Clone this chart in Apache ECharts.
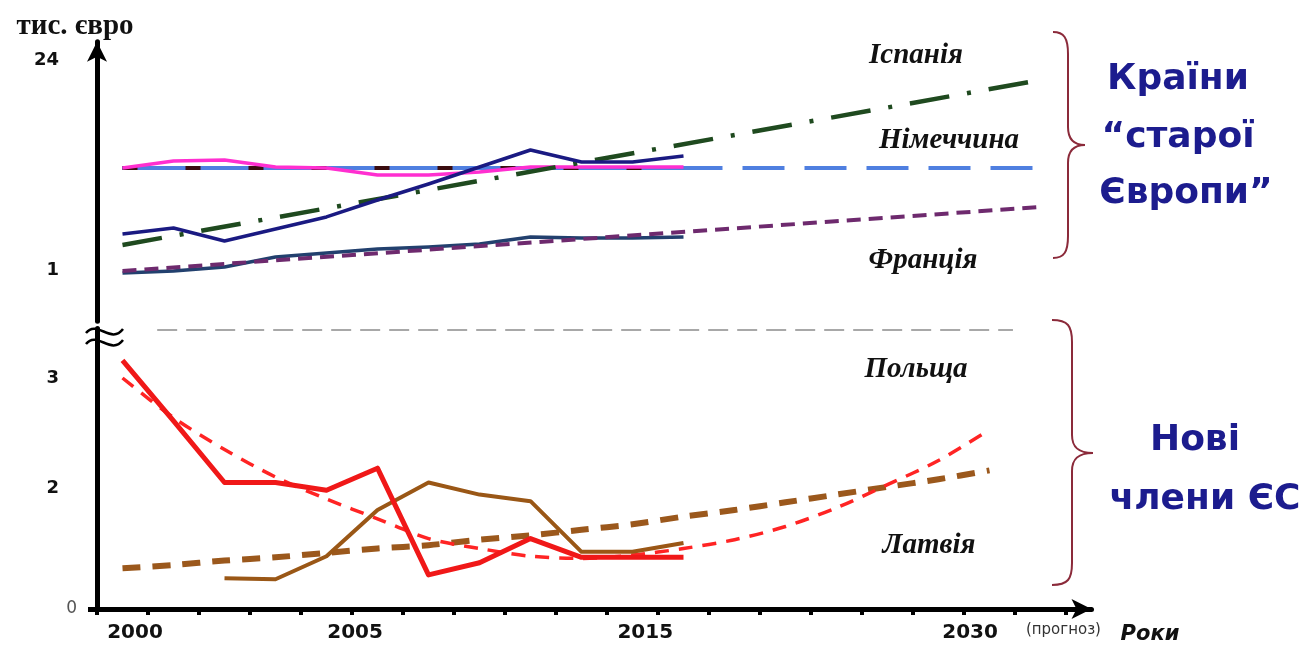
<!DOCTYPE html>
<html><head><meta charset="utf-8">
<script src="https://cdn.jsdelivr.net/npm/echarts@6/dist/echarts.min.js"></script>
<style>html,body{margin:0;padding:0;background:#fff}#c{width:1310px;height:655px}</style>
</head><body><div id="c"></div><script>
// ---- time slots (one slot per tick interval along the year axis) ----
const periods = [0,1,2,3,4,5,6,7,8,9,10,11,12,13,14,15,16,17,18];
const xTickValues = [0,1,2,3,4,5,6,7,8,9,10,11,12,13,14,15,16,17,18,19];
const yearLabels = ['2000','2005','2015','2030','(прогноз)'];
const yearLabelAt = [0.745, 5.06, 10.75, 17.12, 18.95];
const xAxisTitle = 'Роки';
const yAxisTitle = 'тис. євро';

// ---- y tick labels ----
const upperTickValues = [1, 24];
const upperTickLabels = ['1', '24'];
const lowerTickValues = [0.9, 2, 3];
const lowerTickLabels = ['0', '2', '3'];

// ---- "old Europe" (тис. євро, upper part of broken axis) ----
const spainActual   = [4.94, 5.60, 4.18, 5.49, 6.81, 8.67, 10.42, 12.28, 14.14, 12.83, 12.83, 13.49];
const spainTrend    = [3.74, null, null, null, null, null, null, null, null, null, null, null, null, null, null, null, null, null, 21.81];
const germanyActual = [12.17, 12.94, 13.05, 12.28, 12.17, 11.41, 11.41, 11.74, 12.28, 12.28, 12.28, 12.28];
const germanyFit    = [12.17, null, null, null, null, null, null, null, null, null, null, 12.17];
const germanyTrend  = [12.17, null, null, null, null, null, null, null, null, null, null, null, null, null, null, null, null, null, 12.17];
const franceActual  = [0.67, 0.89, 1.33, 2.42, 2.86, 3.29, 3.52, 3.85, 4.61, 4.50, 4.50, 4.61];
const franceTrend   = [0.89, null, null, null, null, null, null, null, null, null, null, null, null, null, null, null, null, null, 7.90];

// ---- new EU members (lower part of broken axis) ----
const polandActual = [3.16, 2.61, 2.05, 2.05, 1.98, 2.18, 1.21, 1.32, 1.54, 1.37, 1.37, 1.37];
const polandTrend  = [3.00, 2.64, 2.35, 2.10, 1.90, 1.72, 1.54, 1.45, 1.38, 1.36, 1.39, 1.45, 1.53, 1.65, 1.82, 2.03, 2.25, 2.53];
const latviaActual = [null, null, 1.18, 1.17, 1.38, 1.80, 2.05, 1.94, 1.88, 1.42, 1.42, 1.50];
const latviaTrend  = [1.27, 1.30, 1.34, 1.37, 1.41, 1.45, 1.48, 1.53, 1.57, 1.62, 1.67, 1.74, 1.80, 1.87, 1.94, 2.01, 2.08, 2.16];

const separatorLevel = 3.436;

function pts(arr) {
  const out = [];
  arr.forEach((v, i) => { if (v !== null && v !== undefined) out.push([periods[i] + 0.5, v]); });
  return out;
}

function line(name, data, grid, color, width, type, extra) {
  return Object.assign({
    name, type: 'line', xAxisIndex: grid, yAxisIndex: grid, data: pts(data),
    showSymbol: false, symbol: 'none', silent: true, animation: false,
    lineStyle: { color, width, type: type || 'solid', cap: 'butt', join: 'round' }
  }, extra || {});
}

const braceStyle = { stroke: '#8b2a3a', lineWidth: 2, fill: null };
function bz(x1, y1, c1x, c1y, c2x, c2y, x2, y2, style) {
  return { type: 'bezierCurve', silent: true,
    shape: { x1, y1, cpx1: c1x, cpy1: c1y, cpx2: c2x, cpy2: c2y, x2, y2 }, style };
}
function ln(x1, y1, x2, y2, style) {
  return { type: 'line', silent: true, shape: { x1, y1, x2, y2 }, style };
}
function brace(x0, top, xs, mid, xp, bot) {
  return [
    bz(x0, top, xs - 4, top, xs, top + 6, xs, top + 22, braceStyle),
    ln(xs, top + 22, xs, mid - 18, braceStyle),
    bz(xs, mid - 18, xs, mid - 6, xs + 6, mid, xp, mid, braceStyle),
    bz(xp, mid, xs + 6, mid, xs, mid + 6, xs, mid + 18, braceStyle),
    ln(xs, mid + 18, xs, bot - 22, braceStyle),
    bz(xs, bot - 22, xs, bot - 6, xs - 4, bot, x0, bot, braceStyle)
  ];
}

const serifLabel = 'italic bold 29px "Liberation Serif", "DejaVu Serif", serif';
const blueText = 'bold 36px "DejaVu Sans", sans-serif';
function txt(text, x, y, font, fill, align) {
  return { type: 'text', x, y, silent: true,
    style: { text, font, fill: fill || '#111', textAlign: align || 'center', textVerticalAlign: 'middle',
             align: align || 'center', verticalAlign: 'middle' } };
}

const breakStyle = { stroke: '#000', lineWidth: 2.5, fill: null };

const chart = echarts.init(document.getElementById('c'), null, { renderer: 'canvas' });
const option = {
  backgroundColor: '#ffffff',
  animation: false,
  grid: [
    { left: 97, right: 218.5, top: 41.74, bottom: 333.87, containLabel: false, outerBoundsMode: 'none' },
    { left: 97, right: 218.5, top: 328.5, bottom: 46, containLabel: false, outerBoundsMode: 'none' }
  ],
  xAxis: [
    { gridIndex: 0, type: 'value', min: 0, max: 19.5, show: false },
    { gridIndex: 1, type: 'value', min: 0, max: 19.5,
      axisLine: { onZero: false, lineStyle: { color: '#000', width: 5 }, symbol: ['none', 'arrow'], symbolSize: [15, 20] },
      axisTick: { show: true, customValues: xTickValues, length: 6, lineStyle: { color: '#000', width: 4 } },
      splitLine: { show: false },
      axisLabel: {
        customValues: yearLabelAt, margin: 14,
        formatter: (v) => {
          let k = 0, best = 1e9;
          yearLabelAt.forEach((p, i) => { if (Math.abs(p - v) < best) { best = Math.abs(p - v); k = i; } });
          return k === yearLabels.length - 1 ? '{p|' + yearLabels[k] + '}' : '{y|' + yearLabels[k] + '}';
        },
        rich: {
          y: { fontFamily: 'DejaVu Sans', fontWeight: 'bold', fontSize: 20, color: '#111' },
          p: { fontFamily: 'DejaVu Sans', fontSize: 15, color: '#333' }
        }
      }
    }
  ],
  yAxis: [
    { gridIndex: 0, type: 'value', min: -4.6, max: 26,
      name: yAxisTitle, nameLocation: 'end', nameGap: 1,
      nameTextStyle: { fontFamily: 'Liberation Serif', fontWeight: 'bold', fontSize: 29, color: '#111', align: 'center', padding: [0, 44, 0, 0] },
      axisLine: { onZero: false, lineStyle: { color: '#000', width: 5 }, symbol: ['none', 'arrow'], symbolSize: [15, 20] },
      axisTick: { show: false }, splitLine: { show: false },
      axisLabel: {
        customValues: upperTickValues, margin: 20,
        formatter: (v) => '{b|' + upperTickLabels[upperTickValues.indexOf(v)] + '}',
        rich: { b: { fontFamily: 'DejaVu Sans', fontWeight: 'bold', fontSize: 18, color: '#111', padding: [0, 18, 0, 0] } }
      }
    },
    { gridIndex: 1, type: 'value', min: 0.9, max: 3.45,
      axisLine: { onZero: false, lineStyle: { color: '#000', width: 5 } },
      axisTick: { show: true, customValues: [0.9], length: 9, lineStyle: { color: '#000', width: 5 } },
      splitLine: { show: false },
      axisLabel: {
        customValues: lowerTickValues, margin: 20,
        formatter: (v) => {
          const i = lowerTickValues.indexOf(v);
          return i === 0 ? '{z|' + lowerTickLabels[i] + '}' : '{b|' + lowerTickLabels[i] + '}';
        },
        rich: {
          b: { fontFamily: 'DejaVu Sans', fontWeight: 'bold', fontSize: 18, color: '#111', padding: [0, 18, 0, 0] },
          z: { fontFamily: 'DejaVu Sans', fontSize: 17, color: '#555' }
        }
      }
    }
  ],
  series: [
    // upper part
    line('Німеччина (прогноз)', germanyTrend, 0, '#4f7fe0', 4, [42, 20]),
    line('Німеччина (тренд)', germanyFit, 0, '#4f7fe0', 4, 'solid'),
    line('Німеччина (тренд, штрих)', germanyFit, 0, '#3a0d10', 4, [15, 48]),
    line('Німеччина', germanyActual, 0, '#ff2fd0', 3.5, 'solid'),
    line('Іспанія (тренд)', spainTrend, 0, '#1f4a1f', 4.5, [40, 18, 4, 18]),
    line('Іспанія', spainActual, 0, '#1a1a82', 3.5, 'solid'),
    line('Франція', franceActual, 0, '#22406e', 3.5, 'solid'),
    line('Франція (тренд)', franceTrend, 0, '#6e2a6e', 4, [14, 8]),
    // lower part
    line('Латвія (тренд)', latviaTrend, 1, '#9b581c', 6, [18, 12], { smooth: 0.3 }),
    line('Польща (тренд)', polandTrend, 1, '#ff2424', 3.5, [14, 10], { smooth: 0.3 }),
    line('Латвія', latviaActual, 1, '#9a5716', 4, 'solid'),
    line('Польща', polandActual, 1, '#f01818', 5, 'solid', {
      markLine: { silent: true, symbol: ['none', 'none'], label: { show: false },
        lineStyle: { color: '#8c8c8c', type: [20, 9], width: 1.5 },
        data: [[{ coord: [1.18, separatorLevel] }, { coord: [17.96, separatorLevel] }]] }
    })
  ],
  graphic: [
    // axis break mark
    bz(86, 333, 97, 319, 111, 345, 123, 329, breakStyle),
    bz(86, 344, 97, 330, 111, 356, 123, 340, breakStyle),
    // braces
    ...brace(1053, 32, 1068, 145, 1085, 258),
    ...brace(1052, 320, 1072, 453, 1093, 585),
    // x axis title
    txt(xAxisTitle, 1150, 635, 'italic bold 21px "DejaVu Sans", sans-serif', '#111'),
    // country names
    txt('Іспанія', 916, 56, serifLabel),
    txt('Німеччина', 949, 141, serifLabel),
    txt('Франція', 923, 261, serifLabel),
    txt('Польща', 916, 370, serifLabel),
    txt('Латвія', 929, 546, serifLabel),
    // group labels
    txt('Країни', 1178, 80, blueText, '#1c1c8e'),
    txt('“старої', 1178, 138, blueText, '#1c1c8e'),
    txt('Європи”', 1186, 194, blueText, '#1c1c8e'),
    txt('Нові', 1195, 441, blueText, '#1c1c8e'),
    txt('члени ЄС', 1205, 500, blueText, '#1c1c8e')
  ]
};
chart.setOption(option);
</script></body></html>
